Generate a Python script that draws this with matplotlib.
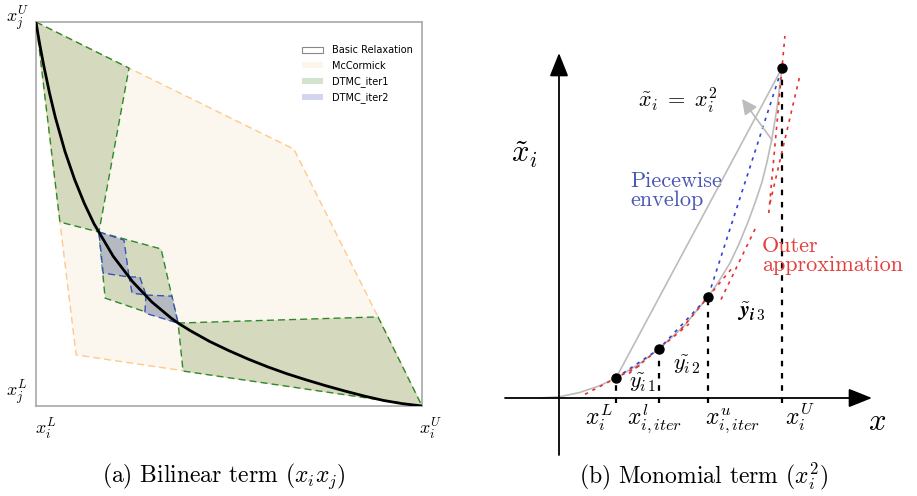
import matplotlib
matplotlib.use('Agg')
import matplotlib.pyplot as plt
from matplotlib.patches import Polygon, Patch
from matplotlib.mathtext import MathTextParser

plt.rcParams['mathtext.fontset'] = 'cm'

# ---------------- (a) bilinear term: box from (x_i^L, x_j^L)=(0,0) to (x_i^U, x_j^U)=(1,1)
mccormick = [(0, 1), (0.241, 0.880), (0.668, 0.669), (0.886, 0.232),
             (1, 0), (0.104, 0.133), (0.062, 0.479)]
dtmc_iter1 = [
    [(0, 1), (0.241, 0.880), (0.163, 0.453), (0.062, 0.479)],
    [(0.163, 0.453), (0.324, 0.409), (0.368, 0.216), (0.179, 0.281)],
    [(0.368, 0.216), (0.886, 0.232), (1, 0), (0.381, 0.091)],
]
dtmc_iter2 = [
    [(0.163, 0.453), (0.228, 0.432), (0.241, 0.336), (0.174, 0.346)],
    [(0.241, 0.336), (0.269, 0.336), (0.285, 0.289), (0.249, 0.294)],
    [(0.285, 0.289), (0.352, 0.286), (0.368, 0.216), (0.282, 0.242)],
]
bil_x = [0.0, 0.005, 0.01, 0.02, 0.035, 0.05, 0.075, 0.1, 0.125, 0.15, 0.2,
         0.25, 0.3, 0.35, 0.368, 0.4, 0.45, 0.5, 0.55, 0.6, 0.65, 0.7, 0.75,
         0.8, 0.85, 0.9, 0.95, 1.0]
bil_y = [1.0, 0.969, 0.940, 0.887, 0.815, 0.752, 0.663, 0.590, 0.528, 0.475,
         0.390, 0.324, 0.271, 0.229, 0.216, 0.196, 0.168, 0.144, 0.122, 0.102,
         0.084, 0.068, 0.053, 0.039, 0.026, 0.0145, 0.006, 0.0]
legend_labels = ['Basic Relaxation', 'McCormick', 'DTMC_iter1', 'DTMC_iter2']

# ---------------- (b) monomial term (schematic units)
bp_u = [0.57, 1.00, 1.49, 2.23]      # x_i^L, x^l_iter, x^u_iter, x_i^U
bp_v = [0.20, 0.49, 1.01, 3.30]
bp_labels = [r'$x_i^L$', r'$x^l_{i,iter}$', r'$x^u_{i,iter}$', r'$x_i^U$']
par_u = [-0.19, 0.0, 0.2, 0.4, 0.57, 0.8, 1.0, 1.25, 1.49, 1.6, 1.71, 1.80,
         1.89, 1.96, 2.03, 2.08, 2.13, 2.18, 2.23]
par_v = [0.0, 0.012, 0.053, 0.12, 0.20, 0.34, 0.49, 0.72, 1.01, 1.17, 1.35,
         1.54, 1.76, 1.95, 2.16, 2.36, 2.60, 2.90, 3.30]
outer_segs = [
    [(0.26, 0.037), (0.85, 0.347)],
    [(0.70, 0.245), (1.30, 0.74)],
    [(1.22, 0.686), (1.72, 1.286)],
    [(1.62, 0.985), (1.98, 1.73)],
    [(2.11, 1.95), (2.41, 3.23)],
    [(2.098, 1.85), (2.259, 3.62)],
]
ytil_labels = [r'$\tilde{y_i}_{1}$', r'$\tilde{y_i}_{2}$', r'$\tilde{y_i}_{3}$']
ytil_pos = [(0.70, 0.10), (1.14, 0.28), (1.78, 0.81)]


def safe_math(s, fallback):
    try:
        MathTextParser('agg').parse(s, dpi=100)
        return s
    except Exception:
        return fallback


W, H = 917, 496
fig = plt.figure(figsize=(W / 100, H / 100), dpi=100)

# ---- left panel
ax1 = fig.add_axes([36 / W, (H - 406) / H, 386 / W, 384 / H])
ax1.set_xlim(0, 1)
ax1.set_ylim(0, 1)
ax1.set_xticks([])
ax1.set_yticks([])
for sp in ax1.spines.values():
    sp.set_color('#a8a8a8')
    sp.set_linewidth(1.2)

dash = (0, (5, 3))
ax1.add_patch(Polygon(mccormick, closed=True, facecolor='#fcf7ee',
                      edgecolor='#ffc98a', lw=1, ls=dash, zorder=1))
for poly in dtmc_iter1:
    ax1.add_patch(Polygon(poly, closed=True, facecolor='#d5d9be',
                          edgecolor='#2a8a2a', lw=1, ls=dash, zorder=2))
for poly in dtmc_iter2:
    ax1.add_patch(Polygon(poly, closed=True, facecolor='#b5bac2',
                          edgecolor='#3a52b8', lw=1, ls=dash, zorder=3))
ax1.plot(bil_x, bil_y, color='black', lw=2, zorder=4)

handles = [Patch(facecolor='white', edgecolor='#888888', lw=0.8),
           Patch(facecolor='#fcf5ea'),
           Patch(facecolor='#d3e4ce'),
           Patch(facecolor='#d4d4f0')]
ax1.legend(handles, legend_labels, loc='upper left', bbox_to_anchor=(0.666, 0.962),
           frameon=False, fontsize=7, handlelength=2.2, handleheight=0.6,
           handletextpad=0.9, labelspacing=0.55, borderpad=0.4)

ax1.text(0.026, -0.062, r'$x_i^L$', fontsize=13, ha='center', va='center', clip_on=False)
ax1.text(1.021, -0.062, r'$x_i^U$', fontsize=13, ha='center', va='center', clip_on=False)
ax1.text(-0.049, 1.008, r'$x_j^U$', fontsize=13, ha='center', va='center', clip_on=False)
ax1.text(-0.049, 0.034, r'$x_j^L$', fontsize=13, ha='center', va='center', clip_on=False)

# ---- right panel (1 unit = 100 px, origin at the axes crossing)
ax2 = fig.add_axes([490 / W, 0, 427 / W, 1])
ax2.set_xlim(-0.69, 3.58)
ax2.set_ylim(-0.98, 3.98)
ax2.axis('off')

arrow = dict(arrowstyle='-|>,head_length=0.8,head_width=0.32', color='black',
             lw=1.3, mutation_scale=18, shrinkA=0, shrinkB=0)
ax2.annotate('', xy=(3.13, 0), xytext=(-0.54, 0), arrowprops=arrow)
ax2.annotate('', xy=(0, 3.45), xytext=(0, -0.57), arrowprops=arrow)

gray = '#bcbcbc'
ax2.plot(par_u, par_v, color=gray, lw=1.2)
ax2.plot([bp_u[0], bp_u[3]], [bp_v[0], bp_v[3]], color=gray, lw=1.2)
ax2.annotate('', xy=(1.83, 2.99), xytext=(2.13, 2.58),
             arrowprops=dict(arrowstyle='-|>,head_length=0.7,head_width=0.35',
                             color=gray, lw=1.2, mutation_scale=13,
                             shrinkA=0, shrinkB=0))

for u, v in zip(bp_u, bp_v):
    ax2.plot([u, u], [-0.05, v], color='black', lw=1.6, ls=(0, (2.5, 3)))

ax2.plot(bp_u, bp_v, color='#3344cc', lw=1.2, ls=(0, (2, 3)))
for (p, q) in outer_segs:
    ax2.plot([p[0], q[0]], [p[1], q[1]], color='#e8302c', lw=1.2, ls=(0, (2, 3)))

ax2.plot(bp_u, bp_v, 'o', color='black', ms=6.5, zorder=5)

label_left = [0.26, 0.68, 1.46, 2.26]
for lx, lab in zip(label_left, bp_labels):
    ax2.text(lx, -0.27, lab, fontsize=17, ha='left', va='baseline')

for (lx, ly), lab in zip(ytil_pos, ytil_labels):
    if lab.endswith('3}$'):
        lab = safe_math(r'$\tilde{\mathbfit{y}}_{\mathbfit{i}\,\mathbf{3}}$', lab)
    ax2.text(lx, ly, lab, fontsize=16, ha='left', va='baseline')

ax2.text(-0.48, 2.43, r'$\tilde{x}_i$', fontsize=22, ha='left', va='center')
ax2.text(3.09, -0.24, r'$x$', fontsize=22, ha='left', va='center')
ax2.text(0.79, 2.98, r'$\tilde{x}_i\;=\;x_i^2$', fontsize=16, ha='left', va='center')
ax2.text(0.71, 2.07, 'Piecewise\nenvelop', fontsize=16, family='cmr10',
         color='#4a58b4', ha='left', va='center', linespacing=0.95)
ax2.text(2.03, 1.42, 'Outer\napproximation', fontsize=16, family='cmr10',
         color='#e2403c', ha='left', va='center', linespacing=0.95)

# ---- captions
fig.text(224 / W, 1 - 476 / H, r'(a) Bilinear term ($x_ix_j$)', family='cmr10',
         fontsize=17, ha='center', va='center')
fig.text(704 / W, 1 - 476 / H, r'(b) Monomial term ($x_i^2$)', family='cmr10',
         fontsize=17, ha='center', va='center')

fig.savefig('out.png', dpi=100)
